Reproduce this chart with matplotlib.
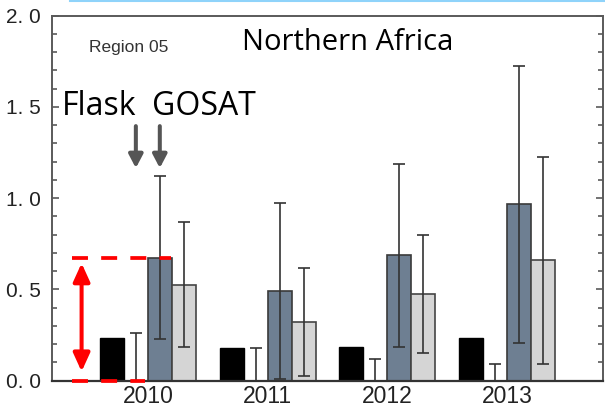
import matplotlib
matplotlib.use("Agg")
import matplotlib.pyplot as plt
import numpy as np
from matplotlib.patches import FancyArrowPatch
from matplotlib.lines import Line2D
from matplotlib.ticker import MultipleLocator, FuncFormatter

plt.rcParams['lines.scale_dashes'] = False

# ---- data -------------------------------------------------------------
years = ['2010', '2011', '2012', '2013']
flask_prior = [0.233, 0.178, 0.183, 0.233]
flask_post = [0.0, 0.0, 0.0, 0.0]
flask_post_err = [0.26, 0.181, 0.117, 0.09]
gosat_prior = [0.674, 0.491, 0.687, 0.967]
gosat_prior_err = [0.446, 0.483, 0.500, 0.758]
gosat_post = [0.527, 0.323, 0.476, 0.659]
gosat_post_err = [0.340, 0.296, 0.325, 0.568]

region_label = 'Region 05'
region_name = 'Northern Africa'

# ---- styling ----------------------------------------------------------
num_font = ['Liberation Sans Narrow', 'Liberation Sans', 'DejaVu Sans']
title_font = ['Open Sans', 'Noto Sans', 'DejaVu Sans']
spine_col = '#5a5a5a'
err_col = '#333333'
slate = '#6e7f92'
light = '#d5d5d5'

fig = plt.figure(figsize=(6.05, 4.18), dpi=100)
ax = fig.add_axes([52 / 605, (418 - 380.7) / 418, (603 - 52) / 605, 365 / 418])

x = np.arange(len(years))
w = 0.2
ekw = dict(ecolor=err_col, elinewidth=1.2, capsize=4.5, capthick=1.2)

ax.bar(x - 1.5 * w, flask_prior, w, color='black', edgecolor='black', linewidth=1.0, zorder=2)
ax.bar(x - 0.5 * w, flask_post, w, color='white', edgecolor='none', zorder=2,
       yerr=flask_post_err, error_kw=ekw)
ax.bar(x + 0.5 * w, gosat_prior, w, color=slate, edgecolor='#3a3a3a', linewidth=1.2, zorder=2,
       yerr=gosat_prior_err, error_kw=ekw)
ax.bar(x + 1.5 * w, gosat_post, w, color=light, edgecolor='#444444', linewidth=1.2, zorder=2,
       yerr=gosat_post_err, error_kw=ekw)

ax.set_xlim(-0.8, len(years) - 0.2)
ax.set_ylim(0, 2.0)

ax.set_xticks(x)
ax.set_xticklabels(years, fontfamily=num_font, fontsize=16.5, color='#222222')
ax.tick_params(axis='x', length=0, pad=3)

ax.yaxis.set_major_locator(MultipleLocator(0.5))
ax.yaxis.set_minor_locator(MultipleLocator(0.1))
ax.yaxis.set_major_formatter(FuncFormatter(lambda v, _: f"{v:.1f}".replace('.', '. ')))
ax.tick_params(axis='y', which='both', direction='in', right=True, color=spine_col, width=1.2)
ax.tick_params(axis='y', which='major', length=5, pad=8)
ax.tick_params(axis='y', which='minor', length=3.5)
for lab in ax.get_yticklabels():
    lab.set_fontfamily(num_font)
    lab.set_fontsize(15)
    lab.set_color('#222222')

for sp in ax.spines.values():
    sp.set_color(spine_col)
    sp.set_linewidth(1.4)
ax.spines['bottom'].set_color('#333333')
ax.spines['bottom'].set_linewidth(1.6)

# ---- annotations ------------------------------------------------------
ax.text(0.783, 1.812, region_name, fontfamily=title_font, fontsize=21, color='black',
        ha='left', va='baseline')
ax.text(-0.49, 1.80, region_label, fontfamily=['Liberation Sans', 'DejaVu Sans'],
        fontsize=12.5, color='#333333', ha='left', va='baseline')
ax.text(-0.717, 1.456, 'Flask', fontfamily=title_font, fontsize=23, color='black',
        ha='left', va='baseline')
ax.text(0.033, 1.456, 'GOSAT', fontfamily=title_font, fontsize=23, color='black',
        ha='left', va='baseline')

# pointers to the flask and GOSAT bars of the first year
for xp in (x[0] - 0.5 * w, x[0] + 0.5 * w):
    ax.add_patch(FancyArrowPatch((xp, 1.395), (xp, 1.165),
                                 arrowstyle='-|>,head_length=8,head_width=4.2',
                                 mutation_scale=1, color='#555555', lw=2.9,
                                 shrinkA=0, shrinkB=0, zorder=5))

# red range marker for the first-year GOSAT prior
top = gosat_prior[0]
red = '#ff0000'
dash = (11.5, 9.5)
ax.add_line(Line2D([x[0] - 0.633, x[0] + 0.19], [top, top], color=red, lw=2.7,
                   dashes=dash, solid_capstyle='butt', dash_capstyle='butt',
                   clip_on=False, zorder=6))
ax.add_line(Line2D([x[0] - 0.633, x[0] - 0.02], [0, 0], color=red, lw=2.7,
                   dashes=dash, dash_capstyle='butt', clip_on=False, zorder=6))
ax.add_patch(FancyArrowPatch((x[0] - 0.553, 0.05), (x[0] - 0.553, top - 0.03),
                             arrowstyle='<|-|>,head_length=11,head_width=5',
                             mutation_scale=1, color=red, lw=2.9,
                             shrinkA=0, shrinkB=0, zorder=6))

# thin sky-blue strip along the top edge
fig.add_artist(Line2D([70 / 605, 1.0], [1 - 1 / 418, 1 - 1 / 418],
                      transform=fig.transFigure, color='#8fd3fa', lw=1.5))

fig.savefig('out.png', dpi=100)
